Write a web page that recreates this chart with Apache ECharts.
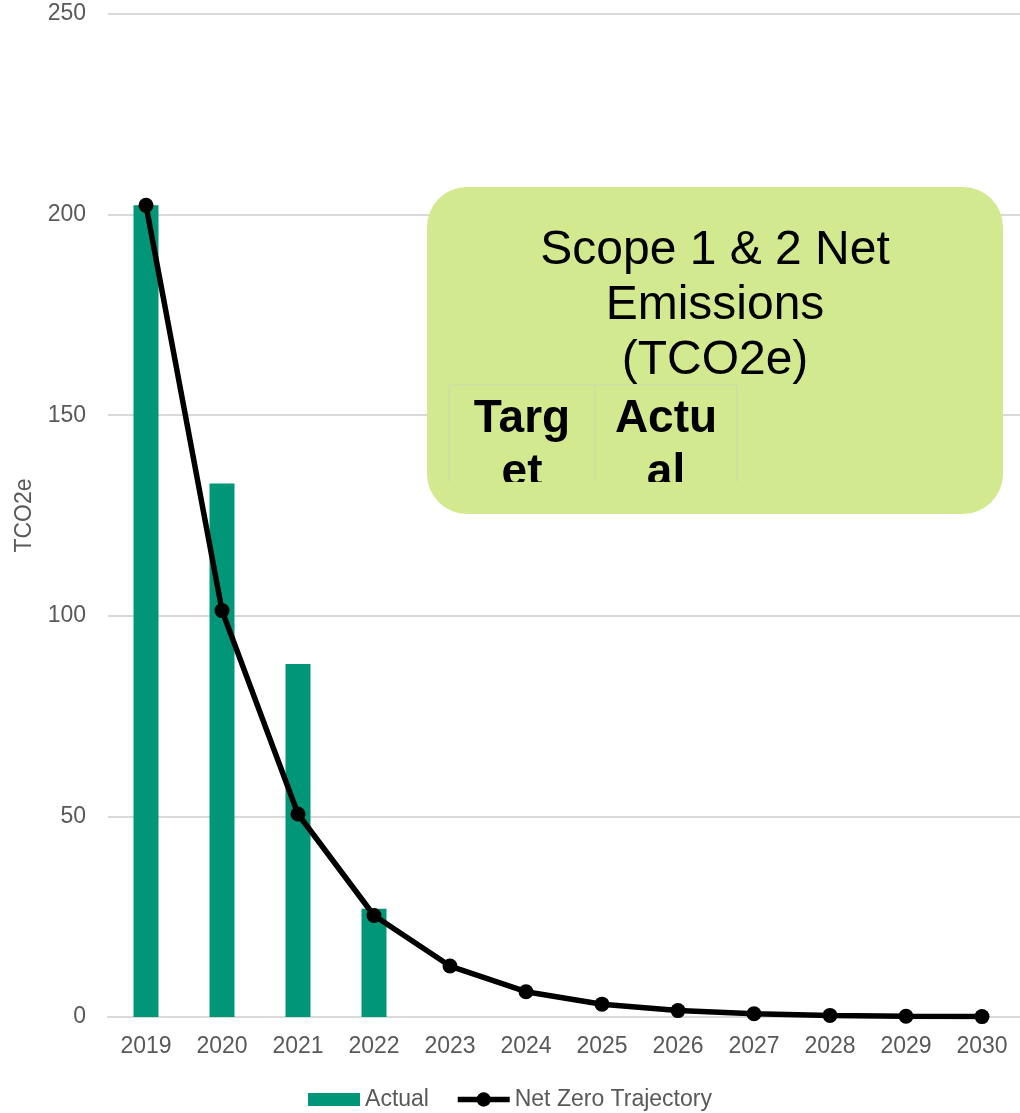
<!DOCTYPE html>
<html><head><meta charset="utf-8">
<script src="https://cdn.jsdelivr.net/npm/echarts@6/dist/echarts.min.js"></script>
<style>html,body{margin:0;padding:0;background:#fff}#c{width:1020px;height:1113px}</style>
</head><body><div id="c"></div>
<script>
const years = ['2019','2020','2021','2022','2023','2024','2025','2026','2027','2028','2029','2030'];
const actual = [202.3, 133, 88, 27, null, null, null, null, null, null, null, null];
const trajectory = [202.3, 101.3, 50.6, 25.3, 12.7, 6.3, 3.2, 1.6, 0.8, 0.4, 0.2, 0.1];
const yTicks = {min: 0, max: 250, interval: 50};
const boxTitle = 'Scope 1 & 2 Net\nEmissions\n(TCO2e)';
const tableHeads = ['Targ\net', 'Actu\nal'];

const chart = echarts.init(document.getElementById('c'), null, {renderer: 'canvas'});
const font = 'Liberation Sans, Arial, sans-serif';
const boxColor = '#d3e98f';
chart.setOption({
  animation: false,
  grid: {left: 108, right: 0, top: 14, bottom: 96},
  xAxis: {
    type: 'category', data: years,
    axisLine: {lineStyle: {color: '#d9d9d9', width: 2}},
    axisTick: {show: false},
    axisLabel: {color: '#595959', fontSize: 23, fontFamily: font, margin: 18}
  },
  yAxis: {
    type: 'value', min: yTicks.min, max: yTicks.max, interval: yTicks.interval,
    name: 'TCO2e', nameLocation: 'middle', nameGap: 72,
    nameTextStyle: {color: '#595959', fontSize: 23, fontFamily: font},
    axisLine: {show: false}, axisTick: {show: false},
    axisLabel: {color: '#595959', fontSize: 23, fontFamily: font, margin: 22},
    splitLine: {lineStyle: {color: '#d9d9d9', width: 2}}
  },
  legend: {
    top: 1083, left: 'center', itemGap: 26,
    textStyle: {color: '#595959', fontSize: 23, fontFamily: font},
    data: [
      {name: 'Actual', icon: 'path://M0,0M0,2.5L52,2.5L52,15.5L0,15.5ZM52,18', itemStyle: {color: '#009677'}},
      {name: 'Net Zero Trajectory', lineStyle: {width: 5.5, color: '#000'}, itemStyle: {color: '#000'}}
    ],
    itemWidth: 52, itemHeight: 18
  },
  series: [
    {name: 'Actual', type: 'bar', data: actual, barWidth: 25,
     itemStyle: {color: '#009677'}},
    {name: 'Net Zero Trajectory', type: 'line', data: trajectory,
     symbol: 'circle', symbolSize: 15,
     lineStyle: {color: '#000', width: 5.5}, itemStyle: {color: '#000'}, z: 5}
  ],
  graphic: [
    {type: 'rect', shape: {x: 427, y: 187, width: 576, height: 327, r: 40},
     style: {fill: boxColor}, z: 100},
    {type: 'text', x: 715, y: 223, z: 101,
     style: {text: boxTitle, fill: '#000', fontSize: 48, fontFamily: font,
       align: 'center', verticalAlign: 'top', lineHeight: 55}},
    {type: 'text', x: 522, y: 392, z: 101,
     style: {text: tableHeads[0], fill: '#000', fontSize: 46, fontWeight: 'bold', fontFamily: font,
       align: 'center', verticalAlign: 'top', lineHeight: 54}},
    {type: 'text', x: 666, y: 392, z: 101,
     style: {text: tableHeads[1], fill: '#000', fontSize: 46, fontWeight: 'bold', fontFamily: font,
       align: 'center', verticalAlign: 'top', lineHeight: 54}},
    {type: 'rect', shape: {x: 445, y: 482, width: 300, height: 22},
     style: {fill: boxColor}, z: 102},
    {type: 'polyline', shape: {points: [[449, 482], [449, 385], [737, 385], [737, 482]]},
     style: {stroke: '#c5dcae', lineWidth: 1, fill: null}, z: 103},
    {type: 'line', shape: {x1: 595, y1: 385, x2: 595, y2: 482},
     style: {stroke: '#c5dcae', lineWidth: 1}, z: 103}
  ]
});
</script></body></html>
